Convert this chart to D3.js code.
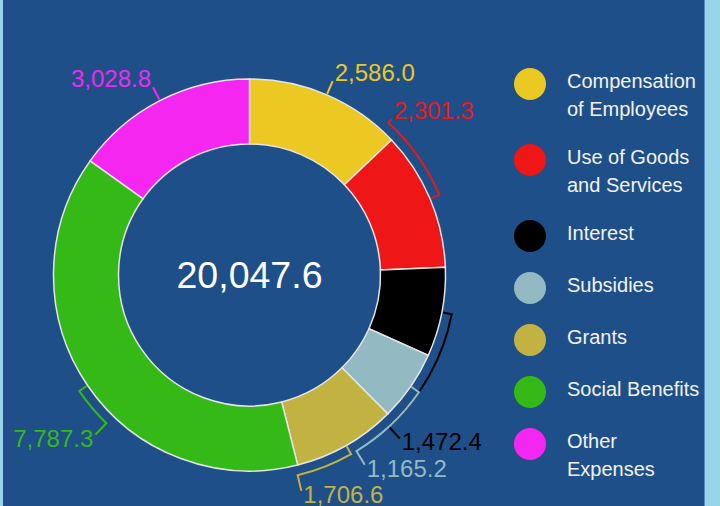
<!DOCTYPE html>
<html>
<head>
<meta charset="utf-8">
<script src="https://cdn.jsdelivr.net/npm/d3@7"></script>
<style>
  body { margin: 0; background: #98d4ea; }
  svg { display: block; font-family: "Liberation Sans", Arial, sans-serif; }
</style>
</head>
<body>
<svg id="chart" width="720" height="506"></svg>
<script>
// data
var categories = ["Compensation of Employees", "Use of Goods and Services", "Interest",
                  "Subsidies", "Grants", "Social Benefits", "Other Expenses"];
var values = [2586.0, 2301.3, 1472.4, 1165.2, 1706.6, 7787.3, 3028.8];
var colors = ["#ebc822", "#ee1616", "#000000", "#93bac2", "#c2b242", "#35b916", "#f526f0"];

var W = 720, H = 506;
var cx = 249.5, cy = 275, rOuter = 196, rInner = 131, rBracket = 206;
var fmt = d3.format(",.1f");

var svg = d3.select("#chart");

// frame
svg.append("rect").attr("width", W).attr("height", H).attr("fill", "#98d4ea");
svg.append("rect").attr("x", 3).attr("y", 0).attr("width", 701).attr("height", H)
  .attr("fill", "#1f4f89");
svg.append("line").attr("x1", 704.5).attr("x2", 704.5).attr("y1", 0).attr("y2", H)
  .attr("stroke", "#5d8fc2").attr("stroke-width", 1);

var pie = d3.pie().sort(null).value(function(d) { return d; });
var arcs = pie(values);
var arc = d3.arc().innerRadius(rInner).outerRadius(rOuter);

var g = svg.append("g").attr("transform", "translate(" + cx + "," + cy + ")");

g.selectAll("path.slice")
  .data(arcs)
  .join("path")
  .attr("class", "slice")
  .attr("d", arc)
  .attr("fill", function(d, i) { return colors[i]; })
  .attr("stroke", "#e4e4e4")
  .attr("stroke-width", 1.5);

// total in the middle
g.append("text")
  .attr("text-anchor", "middle")
  .attr("dy", "0.35em")
  .attr("font-size", 37.5)
  .attr("fill", "#ffffff")
  .text(fmt(d3.sum(values)));

// label layout
function leaderR(a) { return Math.cos(a) > 0 ? 211 : 222; }
function endPt(a) { var r = leaderR(a); return [r * Math.sin(a), -r * Math.cos(a)]; }

var measure = svg.append("text").attr("font-size", 24);
var labels = arcs.map(function(d, i) {
  measure.text(fmt(values[i]));
  var w = measure.node().getComputedTextLength();
  return { i: i, mid: (d.startAngle + d.endAngle) / 2, a: (d.startAngle + d.endAngle) / 2, w: w };
});
measure.remove();

var step = 0.004, minX = 15, gap = 26;
labels.forEach(function(l) {
  var n = 0;
  if (Math.sin(l.a) > 0) {
    var maxX = Math.cos(l.a) > 0 ? 472 : 480;
    while (cx + endPt(l.a)[0] + l.w > maxX && n++ < 2000) l.a += Math.cos(l.a) > 0 ? -step : step;
  } else {
    while (cx + endPt(l.a)[0] - l.w < minX && n++ < 2000) l.a += Math.cos(l.a) > 0 ? step : -step;
  }
});

// push overlapping labels down on the lower right
var lowerRight = labels.filter(function(l) { return Math.sin(l.a) > 0 && Math.cos(l.a) <= 0; })
  .sort(function(a, b) { return a.a - b.a; });
for (var k = 1; k < lowerRight.length; k++) {
  var n = 0;
  while (endPt(lowerRight[k].a)[1] < endPt(lowerRight[k - 1].a)[1] + gap && n++ < 2000) {
    lowerRight[k].a += step;
  }
}

// brackets and leaders
labels.forEach(function(l) {
  var a0 = l.mid, a1 = l.a;
  var p = d3.path();
  p.moveTo((rOuter + 1) * Math.sin(a0), -(rOuter + 1) * Math.cos(a0));
  p.lineTo(rBracket * Math.sin(a0), -rBracket * Math.cos(a0));
  if (Math.abs(a1 - a0) > 0.01) {
    p.arc(0, 0, rBracket, a0 - Math.PI / 2, a1 - Math.PI / 2, a1 < a0);
  }
  var e = endPt(a1);
  p.lineTo(e[0], e[1]);
  g.append("path")
    .attr("d", p.toString())
    .attr("fill", "none")
    .attr("stroke", colors[l.i])
    .attr("stroke-width", 2);

  var right = Math.sin(a1) >= 0;
  g.append("text")
    .attr("x", e[0] + (right ? 2 : -2))
    .attr("y", e[1] + (Math.cos(a1) > 0 ? 0 : 12))
    .attr("text-anchor", right ? "start" : "end")
    .attr("font-size", 24)
    .attr("fill", colors[l.i])
    .text(fmt(values[l.i]));
});

// legend
var legend = svg.append("g");
var ly = 84;
categories.forEach(function(name, i) {
  var item = legend.append("g").attr("transform", "translate(0," + ly + ")");
  item.append("circle").attr("cx", 530).attr("cy", 0).attr("r", 16).attr("fill", colors[i]);
  var txt = item.append("text")
    .attr("x", 567)
    .attr("font-size", 20)
    .attr("fill", "#f2f2f2");
  // wrap words to 140px
  var words = name.split(" "), lines = [], line = [];
  var probe = txt.append("tspan");
  words.forEach(function(wd) {
    line.push(wd);
    probe.text(line.join(" "));
    if (probe.node().getComputedTextLength() > 140 && line.length > 1) {
      line.pop();
      lines.push(line.join(" "));
      line = [wd];
    }
  });
  lines.push(line.join(" "));
  probe.remove();
  lines.forEach(function(s, j) {
    txt.append("tspan").attr("x", 567).attr("y", -3 + j * 28).attr("dy", "0.35em").text(s);
  });
  ly += 52 + 24 * (lines.length - 1);
});
</script>
</body>
</html>
